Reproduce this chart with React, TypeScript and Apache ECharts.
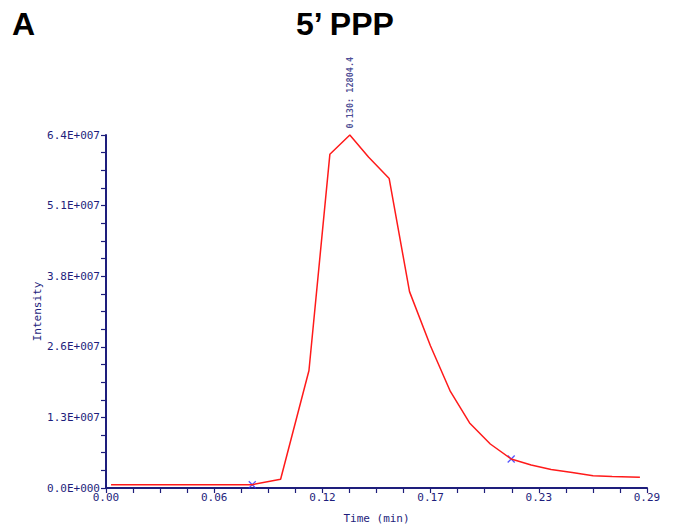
import React, { useEffect, useRef } from "react";
import * as echarts from "echarts";

// ---- data ----
const times = [0.0027, 0.0784, 0.0936, 0.1088, 0.12, 0.1307, 0.1407, 0.1518, 0.1627, 0.1739, 0.1846, 0.1949, 0.206, 0.2172, 0.2279, 0.2386, 0.2499, 0.2611, 0.2713, 0.2862];
const intensities = [6.0e5, 6.0e5, 1.58e6, 2.13e7, 6.05e7, 6.4e7, 6.0e7, 5.61e7, 3.56e7, 2.58e7, 1.75e7, 1.18e7, 7.98e6, 5.26e6, 4.17e6, 3.35e6, 2.81e6, 2.23e6, 2.08e6, 1.94e6];
const markerIndices = [1, 13];
const peakLabel = "0.130: 12804.4";
const title = "5\u2019 PPP";
const panelLetter = "A";
const xName = "Time (min)";
const yName = "Intensity";
const xMin = 0;
const xMax = 0.29;
const xInterval = 0.058;
const yMin = 0;
const yMax = 6.4e7;
const yInterval = 1.28e7;

const NAVY = "#1e1e7c";
const MONO = "'DejaVu Sans Mono', monospace";

export default function App() {
  const ref = useRef<HTMLDivElement>(null);
  useEffect(() => {
    document.body.style.margin = "0";
    if (!ref.current) return;
    const chart = echarts.init(ref.current, null, { renderer: "svg" });
    const lineData = times.map((t, i) => [t, intensities[i]]);
    let peakIdx = 0;
    intensities.forEach((v, i) => {
      if (v > intensities[peakIdx]) peakIdx = i;
    });
    const option: any = {
      animation: false,
      backgroundColor: "#ffffff",
      grid: { left: 106, right: 39, top: 135, bottom: 36, containLabel: false, outerBoundsMode: "none" },
      graphic: [
        {
          type: "text",
          left: 12,
          top: 8,
          style: { text: panelLetter, font: "bold 32px 'Liberation Sans', Arial, sans-serif", fill: "#000" },
        },
        {
          type: "text",
          left: 296,
          top: 8,
          style: { text: title, font: "bold 32px 'Liberation Sans', Arial, sans-serif", fill: "#000" },
        },
      ],
      xAxis: {
        type: "value",
        min: xMin,
        max: xMax,
        interval: xInterval,
        name: xName,
        nameLocation: "middle",
        nameGap: 25,
        nameMoveOverlap: false,
        nameTextStyle: { color: NAVY, fontFamily: MONO, fontSize: 11 },
        axisLine: { show: true, onZero: false, lineStyle: { color: NAVY, width: 2 } },
        axisTick: { show: true, inside: false, length: 5, lineStyle: { color: NAVY, width: 1.2 } },
        minorTick: { show: true, splitNumber: 4, length: 5, lineStyle: { color: NAVY, width: 1.2 } },
        splitLine: { show: false },
        minorSplitLine: { show: false },
        axisLabel: {
          color: NAVY,
          fontFamily: MONO,
          fontSize: 11,
          lineHeight: 9,
          margin: 5,
          showMaxLabel: true,
          formatter: (v: number) => v.toFixed(2),
        },
      },
      yAxis: {
        type: "value",
        min: yMin,
        max: yMax,
        interval: yInterval,
        name: yName,
        nameLocation: "middle",
        nameRotate: 90,
        nameGap: 63,
        nameMoveOverlap: false,
        nameTextStyle: { color: NAVY, fontFamily: MONO, fontSize: 11 },
        axisLine: { show: true, lineStyle: { color: NAVY, width: 2 } },
        axisTick: { show: true, inside: false, length: 5, lineStyle: { color: NAVY, width: 1.2 } },
        minorTick: { show: true, splitNumber: 4, length: 5, lineStyle: { color: NAVY, width: 1.2 } },
        splitLine: { show: false },
        minorSplitLine: { show: false },
        axisLabel: {
          color: NAVY,
          fontFamily: MONO,
          fontSize: 11,
          lineHeight: 9,
          margin: 6,
          formatter: (v: number) => {
            if (v === 0) return "0.0E+000";
            return (v / 1e7).toFixed(1) + "E+007";
          },
        },
      },
      series: [
        {
          type: "line",
          data: lineData,
          symbol: "none",
          clip: false,
          lineStyle: { color: "#ff1a1a", width: 1.5 },
          silent: true,
        },
        {
          type: "scatter",
          data: markerIndices.map((i) => [times[i], intensities[i]]),
          symbol: "path://M0,0L10,10M10,0L0,10",
          symbolSize: 7,
          itemStyle: { color: "none", borderColor: "#2a2aff", borderWidth: 1.3 },
          silent: true,
        },
        {
          type: "scatter",
          data: [[times[peakIdx], intensities[peakIdx]]],
          symbol: "circle",
          symbolSize: 1,
          itemStyle: { color: "rgba(0,0,0,0)" },
          silent: true,
          label: {
            show: true,
            position: "top",
            distance: 6,
            rotate: 90,
            align: "left",
            verticalAlign: "middle",
            formatter: () => peakLabel,
            color: NAVY,
            fontFamily: MONO,
            fontWeight: "bold",
            fontSize: 8.5,
          },
        },
      ],
    };
    chart.setOption(option);
    return () => chart.dispose();
  }, []);
  return <div ref={ref} style={{ position: "absolute", left: 0, top: 0, width: 686, height: 524 }} />;
}
